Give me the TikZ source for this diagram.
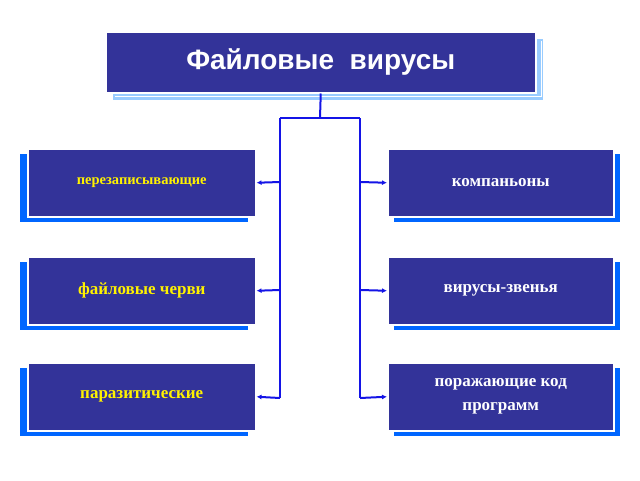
\documentclass[tikz,border=0pt]{standalone}
\usepackage{fontspec}
\setmainfont{Liberation Serif}
\newfontfamily\titlefont{Liberation Sans}
\begin{document}
\begin{tikzpicture}[x=1pt,y=-1pt,
  box/.style={draw=white,line width=1.5pt,fill=boxblue,inner sep=0pt,anchor=north west,font=\bfseries\fontsize{17}{20}\selectfont,align=center},
  shad/.style={draw=white,line width=1pt,fill=#1},
  conn/.style={draw=lineblue,line width=2pt},
  arr/.style={conn,-{Latex[length=5pt,width=5pt]}}]
\usetikzlibrary{arrows.meta}
\definecolor{boxblue}{HTML}{333399}
\definecolor{lineblue}{HTML}{1414E6}
\definecolor{shblue}{HTML}{0066FF}
\definecolor{tshblue}{HTML}{99CCFF}
\useasboundingbox (0,0) rectangle (640,480);
% shadows
\fill[tshblue] (113,39) rectangle (543,100);
\draw[white,line width=1pt] (115,96) -- (541,96) -- (541,41);
\foreach \y in {148,256,362}{
  \fill[shblue] (20,\y+6) rectangle (248,\y+74);
  \fill[shblue] (394,\y+6) rectangle (620,\y+74);
}
% boxes
\node[box,minimum width=430,minimum height=61,text=white,font=\titlefont\bfseries\fontsize{28}{32}\selectfont] (t) at (105,31) {Файловые\ \ вирусы};
\node[box,minimum width=228,minimum height=68,text=yellow,font=\bfseries\fontsize{14.5}{17}\selectfont] (l1) at (27,148) {перезаписывающие};
\node[box,minimum width=228,minimum height=68,text=yellow] (l2) at (27,256) {файловые черви};
\node[box,minimum width=228,minimum height=68,text=yellow] (l3) at (27,362) {паразитические};
\node[box,minimum width=226,minimum height=68,text=white] (r1) at (387,148) {компаньоны};
\node[box,minimum width=226,minimum height=68,text=white] (r2) at (387,256) {вирусы-звенья};
\node[box,minimum width=226,minimum height=68,text=white,font=\bfseries\fontsize{17}{24}\selectfont] (r3) at (387,362) {поражающие код\\программ};
% connectors
\coordinate (j) at (320,118);
\coordinate (jl) at (280,118);
\coordinate (jr) at (360,118);
\coordinate (bl) at (280,398);
\coordinate (br) at (360,398);
\draw[conn] (t.south) -- (j);
\draw[conn] (jl) -- (jr);
\draw[conn] (jl) -- (bl);
\draw[conn] (jr) -- (br);
\draw[arr] (280,182) -- (l1.east);
\draw[arr] (280,290) -- (l2.east);
\draw[arr] (bl) -- (l3.east);
\draw[arr] (360,182) -- (r1.west);
\draw[arr] (360,290) -- (r2.west);
\draw[arr] (br) -- (r3.west);
\end{tikzpicture}
\end{document}
